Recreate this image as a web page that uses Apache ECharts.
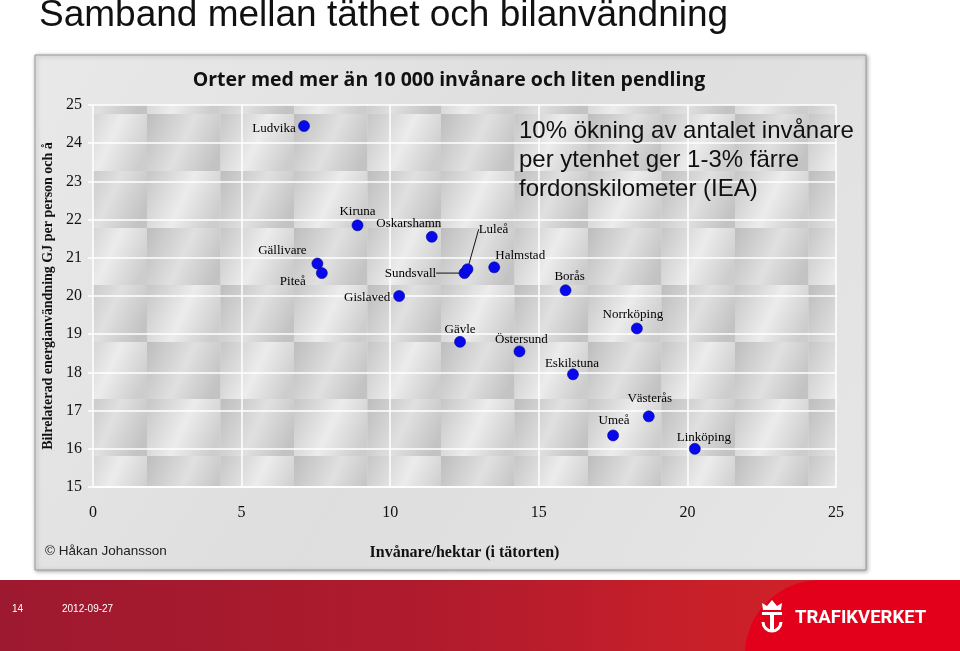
<!DOCTYPE html>
<html><head><meta charset="utf-8">
<script src="https://cdn.jsdelivr.net/npm/echarts@6/dist/echarts.min.js"></script>
<style>html,body{margin:0;padding:0;background:#fff}#c{width:960px;height:651px}</style>
</head><body><div id="c"></div>
<script>
// ---- data ----
const cities  = ['Ludvika','Kiruna','Oskarshamn','Gällivare','Piteå','Gislaved','Sundsvall','Luleå','Halmstad','Borås','Norrköping','Gävle','Östersund','Eskilstuna','Västerås','Umeå','Linköping'];
const density = [7.1, 8.9, 11.4, 7.55, 7.7, 10.3, 12.5, 12.6, 13.5, 15.9, 18.3, 12.35, 14.35, 16.15, 18.7, 17.5, 20.25];
const energy  = [24.45, 21.85, 21.55, 20.85, 20.6, 20.0, 20.6, 20.7, 20.75, 20.15, 19.15, 18.8, 18.55, 17.95, 16.85, 16.35, 16.0];
const xMin = 0, xMax = 25, xStep = 5;
const yMin = 15, yMax = 25, yStep = 1;
const titleText = 'Samband mellan täthet och bilanvändning';
const subtitleText = 'Orter med mer än 10 000 invånare och liten pendling';
const noteLines = ['10% ökning av antalet invånare', 'per ytenhet ger 1-3% färre', 'fordonskilometer (IEA)'];
const yName = 'Bilrelaterad energianvändning GJ per person och å';
const xName = 'Invånare/hektar (i tätorten)';
const credit = '© Håkan Johansson';
const slideNo = '14', slideDate = '2012-09-27', brand = 'TRAFIKVERKET';

// ---- label placement (style) ----
const labelShift = {
  'Ludvika':[-30,3], 'Kiruna':[0,-14], 'Oskarshamn':[-23,-13], 'Gällivare':[-35,-13],
  'Piteå':[-29,8], 'Gislaved':[-32,2], 'Sundsvall':[-54,0], 'Luleå':[26,-40],
  'Halmstad':[26,-12], 'Borås':[4,-14], 'Norrköping':[-4,-14], 'Gävle':[0,-12],
  'Östersund':[2,-12], 'Eskilstuna':[-1,-11], 'Västerås':[1,-18], 'Umeå':[1,-15], 'Linköping':[9,-11]
};
const leader = {'Sundsvall':true, 'Luleå':true};

// tile pattern for plot background
function makeTiles(){
  const c = document.createElement('canvas'); c.width = 147; c.height = 114;
  const g = c.getContext('2d');
  const tw = 73.5, th = 57;
  for (let r = 0; r < 2; r++) for (let k = 0; k < 2; k++) {
    const x = k*tw, y = r*th;
    const gr = g.createLinearGradient(x, y, x+tw, y+th*0.6);
    const dark = ((r+k)%2===0);
    gr.addColorStop(0, dark ? '#bdbdbd' : '#c6c6c6');
    gr.addColorStop(0.55, dark ? '#e0e0e0' : '#ececec');
    gr.addColorStop(1, dark ? '#c3c3c3' : '#cdcdcd');
    g.fillStyle = gr; g.fillRect(x, y, tw, th);
  }
  return c;
}

const points = cities.map((n,i)=>{
  const item = {name:n, value:[density[i], energy[i]]};
  if (leader[n]) item.labelLine = {show:true, lineStyle:{color:'#111', width:1}};
  return item;
});

const chart = echarts.init(document.getElementById('c'));
chart.setOption({
  backgroundColor:'#ffffff',
  animation:false,
  grid:{left:93, right:124, top:105, bottom:164, show:true, borderWidth:0,
        backgroundColor:{image:makeTiles(), repeat:'repeat'}},
  xAxis:{type:'value', min:xMin, max:xMax, interval:xStep,
    name:xName, nameLocation:'middle', nameGap:58,
    nameTextStyle:{fontFamily:'Liberation Serif', fontWeight:'bold', fontSize:16, color:'#111'},
    axisLine:{show:true, lineStyle:{color:'#ffffff', width:1.5}},
    axisTick:{show:false},
    axisLabel:{fontFamily:'Liberation Serif', fontSize:16, color:'#111', margin:18},
    splitLine:{show:true, lineStyle:{color:'#ffffff', width:1.5}}},
  yAxis:{type:'value', min:yMin, max:yMax, interval:yStep,
    name:yName, nameLocation:'middle', nameGap:35, nameRotate:90,
    nameTextStyle:{fontFamily:'Liberation Serif', fontWeight:'bold', fontSize:14, color:'#111'},
    axisLine:{show:false},
    axisTick:{show:true, length:5, lineStyle:{color:'#ffffff', width:1.5}},
    axisLabel:{fontFamily:'Liberation Serif', fontSize:16, color:'#111', margin:11},
    splitLine:{show:true, lineStyle:{color:'#ffffff', width:1.5}}},
  series:[{
    type:'scatter', data:points, symbol:'circle', symbolSize:11,
    itemStyle:{color:'#0808ee', borderColor:'#00008c', borderWidth:0.6, opacity:1},
    label:{show:true, position:'inside', formatter:p=>p.name,
      fontFamily:'Liberation Serif', fontSize:13, color:'#000'},
    labelLine:{show:false},
    labelLayout:(p)=>{ const s = labelShift[cities[p.dataIndex]] || [0,-12]; return {dx:s[0], dy:s[1]}; },
    z:5
  }],
  graphic:[
    {type:'rect', z:-10, silent:true, shape:{x:35, y:55, width:831, height:515},
     style:{fill:{type:'linear', x:0, y:0, x2:1, y2:1, colorStops:[{offset:0,color:'#e9e9e9'},{offset:0.5,color:'#dedede'},{offset:1,color:'#e6e6e6'}]},
            stroke:'#9a9a9a', lineWidth:1, shadowBlur:4, shadowColor:'rgba(0,0,0,0.35)', shadowOffsetX:1, shadowOffsetY:1}},
    {type:'text', z:10, style:{text:titleText, x:39, y:16, textVerticalAlign:'middle', font:'37px "Liberation Sans"', fill:'#111'}},
    {type:'text', z:10, style:{text:subtitleText, x:449, y:80, textAlign:'center', textVerticalAlign:'middle', font:'bold 19.5px "Open Sans"', fill:'#111'}},
    {type:'text', z:10, style:{text:noteLines[0], x:519, y:131, textVerticalAlign:'middle', font:'24px "Liberation Sans"', fill:'#111'}},
    {type:'text', z:10, style:{text:noteLines[1], x:519, y:160, textVerticalAlign:'middle', font:'24px "Liberation Sans"', fill:'#111'}},
    {type:'text', z:10, style:{text:noteLines[2], x:519, y:189, textVerticalAlign:'middle', font:'24px "Liberation Sans"', fill:'#111'}},
    {type:'text', z:10, style:{text:credit, x:45, y:551, textVerticalAlign:'middle', font:'13.5px "Liberation Sans"', fill:'#222'}},
    // bottom band
    {type:'rect', z:-10, silent:true, shape:{x:0, y:580, width:960, height:71},
     style:{fill:{type:'linear', x:0, y:0, x2:1, y2:0, colorStops:[{offset:0,color:'#9d192f'},{offset:0.45,color:'#b01b2d'},{offset:0.78,color:'#cc2029'},{offset:1,color:'#d8231f'}]}}},
    {type:'rect', z:-9, silent:true, shape:{x:745, y:580, width:260, height:150, r:[75,0,0,0]},
     style:{fill:'#e2001a'}},
    {type:'text', z:10, style:{text:slideNo, x:12, y:609, textVerticalAlign:'middle', font:'10px "Liberation Sans"', fill:'#fff'}},
    {type:'text', z:10, style:{text:slideDate, x:62, y:609, textVerticalAlign:'middle', font:'10px "Liberation Sans"', fill:'#fff'}},
    {type:'text', z:10, style:{text:brand, x:795, y:618, textVerticalAlign:'middle', font:'bold 18.5px "Liberation Sans Narrow", "Roboto"', fill:'#fff'}},
    // simple logo
    {type:'polygon', z:10, shape:{points:[[763,610],[762,603],[767,606],[772,600],[777,606],[782,603],[781,610]]}, style:{fill:'#fff'}},
    {type:'rect', z:10, shape:{x:762, y:612, width:20, height:3}, style:{fill:'#fff'}},
    {type:'rect', z:10, shape:{x:770, y:612, width:4, height:18}, style:{fill:'#fff'}},
    {type:'arc', z:10, shape:{cx:772, cy:622, r:9, startAngle:0, endAngle:Math.PI}, style:{stroke:'#fff', lineWidth:3, fill:null}}
  ]
});
</script>
</body></html>
